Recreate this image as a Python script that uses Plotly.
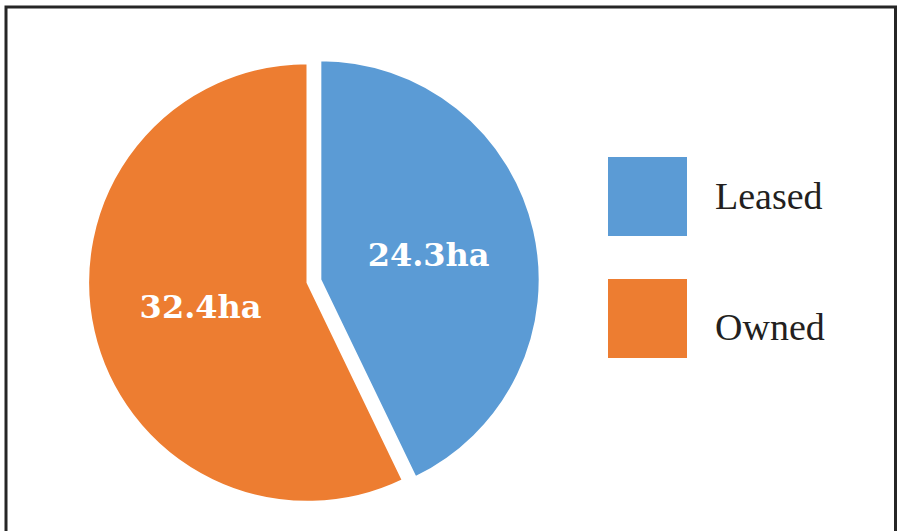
import plotly.graph_objects as go

categories = ["Leased", "Owned"]
values = [24.3, 32.4]
colors = ["#5B9BD5", "#ED7D31"]
unit = "ha"

W, H = 897, 531

def px(x):
    return x / W

def py(y):
    return 1 - y / H

fig = go.Figure()
fig.add_trace(go.Pie(
    labels=categories,
    values=values,
    sort=False,
    direction="clockwise",
    rotation=0,
    pull=[0.06, 0],
    marker=dict(colors=colors, line=dict(color="white", width=2)),
    texttemplate="%{value}" + unit,
    textposition="inside",
    insidetextorientation="horizontal",
    textfont=dict(family="DejaVu Serif", size=32, color="white", weight="bold"),
    hoverinfo="label+value",
    showlegend=False,
    domain=dict(x=[px(75), px(540)], y=[py(515), py(50)]),
))

shapes = []
annotations = []
# Border
shapes.append(dict(type="rect", xref="paper", yref="paper",
                   x0=px(6), x1=px(895.5), y0=py(560), y1=py(7),
                   line=dict(color="#262626", width=3), fillcolor="rgba(0,0,0,0)"))
# Custom legend with large swatches
legend_tops = [157, 279]
text_centers = [196, 327]
for i, cat in enumerate(categories):
    t = legend_tops[i]
    shapes.append(dict(type="rect", xref="paper", yref="paper",
                       x0=px(608), x1=px(687), y0=py(t + 79), y1=py(t),
                       line=dict(width=0), fillcolor=colors[i]))
    annotations.append(dict(xref="paper", yref="paper", x=px(713), y=py(text_centers[i]),
                            xanchor="left", yanchor="middle", showarrow=False,
                            text=cat, font=dict(family="Liberation Serif", size=38, color="#231f20")))

fig.update_layout(
    width=W, height=H,
    margin=dict(l=0, r=0, t=0, b=0),
    paper_bgcolor="white",
    plot_bgcolor="white",
    shapes=shapes,
    annotations=annotations,
)

fig.write_html("out.html", config={"displayModeBar": False},
               post_script="document.body.style.margin='0';document.body.style.overflow='hidden';")
